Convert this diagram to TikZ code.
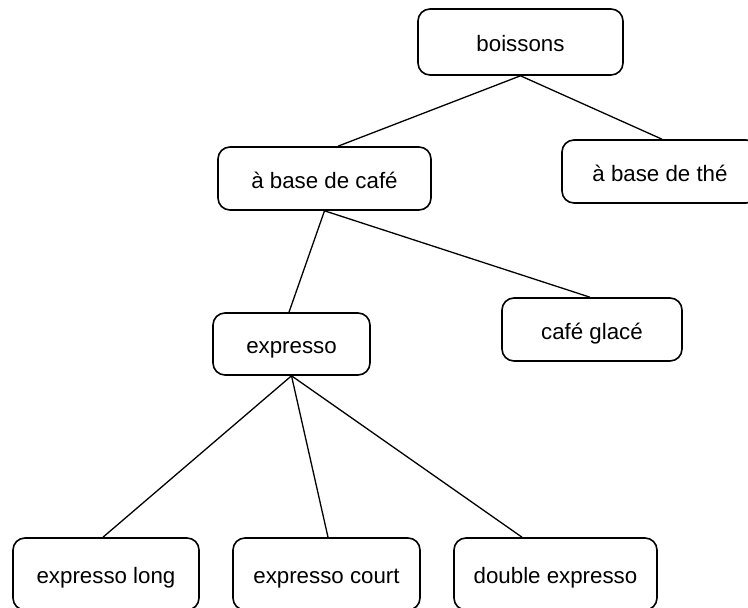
\documentclass[tikz,border=0pt]{standalone}
\usepackage{fontspec}
\setmainfont{Liberation Sans}
\begin{document}
\begin{tikzpicture}[x=1pt,y=-1pt,
  box/.style={draw, line width=1.6pt, rounded corners=12pt, inner sep=0pt,
    text height=21pt, text depth=2pt,
    font=\fontsize{22.3}{26}\selectfont},
  link/.style={line width=1.3pt}]
\useasboundingbox (0,0) rectangle (748,608);
\clip (0,0) rectangle (748,608);
\node[box, minimum width=205pt, minimum height=66pt] (boissons) at (520.5,42) {boissons};
\node[box, minimum width=213pt, minimum height=63pt] (cafe) at (324.5,178.5) {à base de café};
\node[box, minimum width=196pt, minimum height=63pt] (the) at (660,171.5) {à base de thé};
\node[box, minimum width=157pt, minimum height=62pt] (expresso) at (291.5,344) {expresso};
\node[box, minimum width=180pt, minimum height=63pt] (glace) at (592,329.5) {café glacé};
\node[box, minimum width=186pt, minimum height=72pt] (long) at (106,574) {expresso long};
\node[box, minimum width=187pt, minimum height=72pt] (court) at (326.5,574) {expresso court};
\node[box, minimum width=203pt, minimum height=72pt] (dbl) at (555.5,574) {double expresso};
\draw[link] (boissons.south) -- ([xshift=13.5pt]cafe.north);
\draw[link] (boissons.south) -- ([xshift=2pt]the.north);
\draw[link] (cafe.south) -- ([xshift=-2.5pt]expresso.north);
\draw[link] (cafe.south) -- ([xshift=-2pt]glace.north);
\draw[link] (expresso.south) -- ([xshift=-3pt]long.north);
\draw[link] (expresso.south) -- ([xshift=1.5pt]court.north);
\draw[link] (expresso.south) -- ([xshift=-33.5pt]dbl.north);
\end{tikzpicture}
\end{document}
